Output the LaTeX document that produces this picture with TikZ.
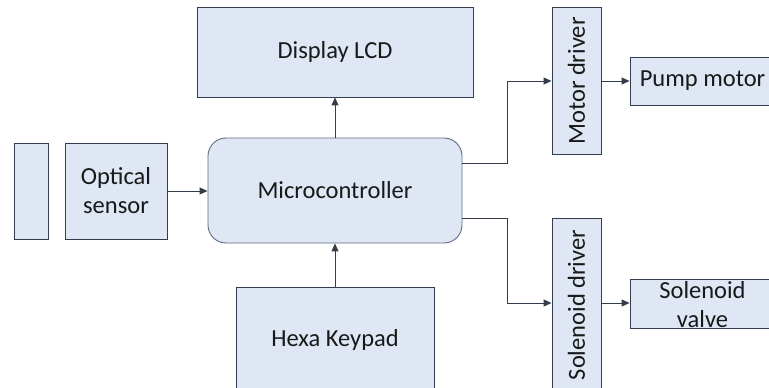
\documentclass[tikz,border=0pt]{standalone}
\usepackage{fontspec}
\setmainfont{Carlito}
\usepackage{tikz}
\usetikzlibrary{arrows.meta}
\definecolor{boxfill}{HTML}{DEE7F3}
\definecolor{boxline}{HTML}{323E4E}
\definecolor{mculine}{HTML}{5F6E80}
\definecolor{wire}{HTML}{333D4A}

\begin{document}
\begin{tikzpicture}[x=1pt,y=-1pt,
    blk/.style={draw=boxline,fill=boxfill,line width=0.9pt,inner sep=0pt,align=center,
      font=\fontsize{24.5}{29}\selectfont,text=black!90},
    mcu/.style={blk,draw=mculine,rounded corners=18pt},
    wireto/.style={-{Triangle[length=8pt,width=7pt]},draw=wire,line width=1pt}]
        \clip (0,0) rectangle (769,388);
        \fill[white] (0,0) rectangle (769,388);
        % blocks
        \node[blk,minimum width=276,minimum height=90] (lcd) at (335,52) {Display LCD};
        \node[mcu,minimum width=254,minimum height=105] (mcu) at (335,190.5) {Microcontroller};
        \node[blk,minimum width=198,minimum height=105] (keypad) at (335,339.5) {Hexa Keypad};
        \node[blk,minimum width=34,minimum height=96] (bar) at (31,191) {};
        \node[blk,minimum width=102,minimum height=96] (optic) at (116,191) {Optical\\sensor};
        \node[blk,minimum width=49,minimum height=147] (mdrv) at (576.5,81) {\rotatebox{90}{Motor driver}};
        \node[blk,minimum width=145,minimum height=48] (pump) at (702.5,81) {Pump motor};
        \node[blk,minimum width=49,minimum height=174] (sdrv) at (576.5,305) {\rotatebox{90}{Solenoid driver}};
        \node[blk,minimum width=145,minimum height=49] (valve) at (702.5,303.5) {};
        \node[blk,draw=none,fill=none] (valvetxt) at ([yshift=-1.5pt]valve.center) {Solenoid\\valve};
        % wires
        \draw[wireto] (optic.east) -- (optic.east -| mcu.west);
        \draw[wireto] (mcu.north) -- (lcd.south);
        \draw[wireto] (keypad.north) -- (mcu.south);
        \draw[wireto] ([yshift=27.5pt]mcu.east) -- ++(45,0) |- (mdrv.west);
        \draw[wireto] ([yshift=-27.5pt]mcu.east) -- ++(45,0) |- ([yshift=2pt]sdrv.west);
        \draw[wireto] (mdrv.east) -- (pump.west);
        \draw[wireto] ([yshift=2pt]sdrv.east) -- ([yshift=2pt]sdrv.east -| valve.west);
      \end{tikzpicture}
\end{document}
